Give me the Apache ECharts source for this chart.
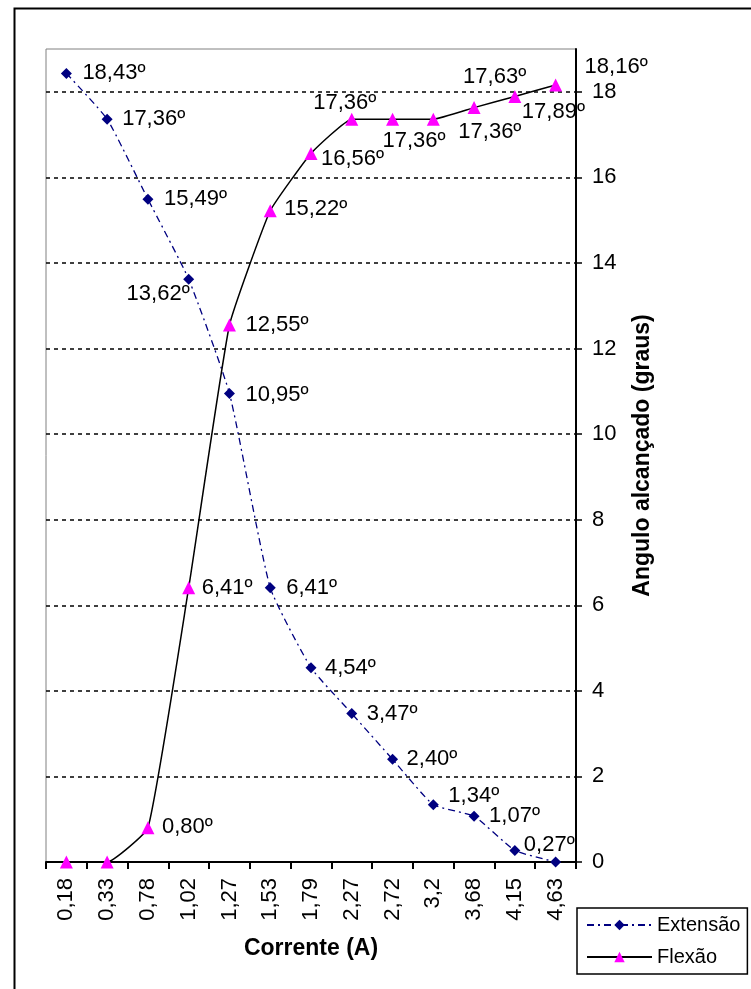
<!DOCTYPE html>
<html>
<head>
<meta charset="utf-8">
<script src="https://cdn.jsdelivr.net/npm/echarts@6/dist/echarts.min.js"></script>
<style>
html,body{margin:0;padding:0;background:#fff;}
#chart{width:751px;height:989px;}
</style>
</head>
<body>
<div id="chart"></div>
<script>
// ---- data ----
const categories = ['0,18','0,33','0,78','1,02','1,27','1,53','1,79','2,27','2,72','3,2','3,68','4,15','4,63'];
const extensao = [18.43, 17.36, 15.49, 13.62, 10.95, 6.41, 4.54, 3.47, 2.40, 1.34, 1.07, 0.27, 0];
const flexao   = [0, 0, 0.80, 6.41, 12.55, 15.22, 16.56, 17.36, 17.36, 17.36, 17.63, 17.89, 18.16];
const yTicks = [0, 2, 4, 6, 8, 10, 12, 14, 16, 18];

// ---- label placement (style only): [align, dx, dy] relative to point, null = no label ----
const extLabelPlace = [
  ['left',16,0],['left',15,0],['left',16,0],['right',1,15],['left',16,1],['left',16,0],
  ['left',14,0],['left',15,0],['left',14,0],['left',15,-9],['left',15,0],['left',9,-6],null
];
const flexLabelPlace = [
  null,null,['left',14,-1],['left',13,0],['left',16,0],['left',14,-2],['left',10,6],
  ['center',-7,-16],['left',-10,22],['left',25,13],['left',-11,-31],['left',7,15],['left',29,-18]
];

const FONT = "'Liberation Sans', Arial, sans-serif";
function fmt(v){ return v.toFixed(2).replace('.', ',') + 'º'; }
function build(values, places){
  return values.map((v,i)=>{
    const p = places[i];
    if(!p) return {value:v, label:{show:false}};
    return {value:v, label:{show:true, position:'inside', align:p[0], verticalAlign:'middle', offset:[p[1],p[2]]}};
  });
}

const chart = echarts.init(document.getElementById('chart'), null, {renderer:'canvas'});
chart.setOption({
  backgroundColor:'#fff',
  animation:false,
  textStyle:{fontFamily:FONT},
  graphic:[{type:'rect', left:12, top:6, shape:{width:760, height:1000}, style:{fill:'none', stroke:'#000', lineWidth:2}, silent:true}],
  grid:{left:46, right:175, top:49, bottom:127, show:true, borderColor:'#808080', borderWidth:1, backgroundColor:'transparent'},
  legend:{
    orient:'vertical', left:577, top:908,
    padding:[7,7,7,9], itemGap:12, itemWidth:65, itemHeight:13,
    borderColor:'#000', borderWidth:1.5,
    textStyle:{fontSize:20, color:'#000', fontFamily:FONT},
    data:['Extensão','Flexão']
  },
  xAxis:{
    type:'category', data:categories, boundaryGap:true,
    name:'Corrente (A)', nameLocation:'middle', nameGap:75,
    nameTextStyle:{fontSize:23, fontWeight:'bold', color:'#000', fontFamily:FONT},
    axisLine:{lineStyle:{color:'#000', width:2}},
    axisTick:{show:true, length:7, lineStyle:{color:'#000', width:2}},
    axisLabel:{rotate:90, fontSize:22, margin:16, color:'#000', fontFamily:FONT},
    splitLine:{show:false}
  },
  yAxis:{
    type:'value', position:'right', min:0, max:19, interval:2,
    name:'Angulo alcançado (graus)', nameLocation:'middle', nameGap:55, nameRotate:90,
    nameTextStyle:{fontSize:23, fontWeight:'bold', color:'#000', fontFamily:FONT},
    axisLine:{show:true, lineStyle:{color:'#000', width:2}},
    axisTick:{show:true, length:6, customValues:yTicks, lineStyle:{color:'#000', width:1.5}},
    axisLabel:{fontSize:22, margin:16, color:'#000', fontFamily:FONT, customValues:yTicks},
    splitLine:{show:true, lineStyle:{color:'#000', type:[4,4], width:1.5}}
  },
  series:[
    {
      name:'Extensão', type:'line', smooth:0.15,
      data:build(extensao, extLabelPlace),
      symbol:'diamond', symbolSize:11,
      itemStyle:{color:'#000080'},
      lineStyle:{color:'#000080', width:1.3, type:[7,4,2,4]},
      label:{fontSize:22, color:'#000', fontFamily:FONT, formatter:p=>fmt(p.value)},
      z:3
    },
    {
      name:'Flexão', type:'line', smooth:0.12,
      data:build(flexao, flexLabelPlace),
      symbol:'triangle', symbolSize:13,
      itemStyle:{color:'#FF00FF'},
      lineStyle:{color:'#000', width:1.5, type:'solid'},
      label:{fontSize:22, color:'#000', fontFamily:FONT, formatter:p=>fmt(p.value)},
      z:4
    }
  ]
});
</script>
</body>
</html>
